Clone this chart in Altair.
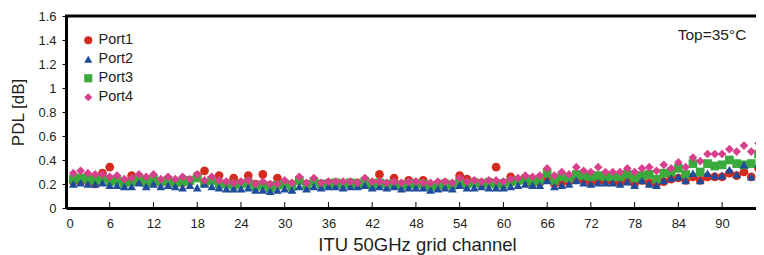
import altair as alt
import pandas as pd

channels = list(range(1, 96))

port1 = [0.22, 0.22, 0.22, 0.20, 0.29, 0.34, 0.23, 0.22, 0.27, 0.23,
         0.22, 0.22, 0.21, 0.22, 0.21, 0.21, 0.22, 0.27, 0.31, 0.23,
         0.27, 0.21, 0.25, 0.21, 0.27, 0.20, 0.28, 0.19, 0.25, 0.21,
         0.20, 0.23, 0.20, 0.22, 0.20, 0.21, 0.21, 0.20, 0.21, 0.21,
         0.23, 0.21, 0.28, 0.20, 0.25, 0.20, 0.23, 0.21, 0.23, 0.19,
         0.20, 0.21, 0.20, 0.27, 0.24, 0.22, 0.21, 0.22, 0.34, 0.21,
         0.26, 0.23, 0.23, 0.20, 0.21, 0.25, 0.20, 0.21, 0.22, 0.24,
         0.23, 0.21, 0.22, 0.22, 0.22, 0.21, 0.23, 0.20, 0.23, 0.21,
         0.20, 0.22, 0.24, 0.25, 0.23, 0.26, 0.23, 0.26, 0.26, 0.26,
         0.29, 0.27, 0.30, 0.26, 0.33]

port2 = [0.20, 0.21, 0.20, 0.20, 0.21, 0.19, 0.19, 0.18, 0.18, 0.21,
         0.18, 0.20, 0.18, 0.19, 0.18, 0.17, 0.19, 0.17, 0.20, 0.18,
         0.17, 0.16, 0.16, 0.16, 0.17, 0.15, 0.15, 0.14, 0.15, 0.16,
         0.15, 0.18, 0.16, 0.18, 0.17, 0.18, 0.18, 0.17, 0.18, 0.18,
         0.19, 0.17, 0.18, 0.17, 0.18, 0.16, 0.17, 0.17, 0.17, 0.15,
         0.16, 0.17, 0.16, 0.19, 0.17, 0.17, 0.18, 0.17, 0.17, 0.17,
         0.18, 0.19, 0.20, 0.19, 0.19, 0.23, 0.18, 0.19, 0.20, 0.23,
         0.21, 0.20, 0.21, 0.21, 0.21, 0.20, 0.22, 0.19, 0.23, 0.20,
         0.19, 0.23, 0.25, 0.26, 0.23, 0.29, 0.23, 0.29, 0.27, 0.27,
         0.32, 0.28, 0.36, 0.26, 0.37]

port3 = [0.24, 0.25, 0.24, 0.23, 0.25, 0.22, 0.23, 0.21, 0.22, 0.25,
         0.21, 0.24, 0.22, 0.23, 0.21, 0.22, 0.23, 0.25, 0.21, 0.23,
         0.20, 0.20, 0.19, 0.20, 0.21, 0.18, 0.19, 0.17, 0.19, 0.20,
         0.18, 0.23, 0.19, 0.22, 0.20, 0.20, 0.21, 0.20, 0.21, 0.20,
         0.22, 0.19, 0.21, 0.20, 0.20, 0.19, 0.20, 0.20, 0.20, 0.18,
         0.19, 0.20, 0.19, 0.22, 0.20, 0.21, 0.20, 0.21, 0.20, 0.20,
         0.22, 0.23, 0.24, 0.22, 0.23, 0.29, 0.23, 0.26, 0.25, 0.28,
         0.27, 0.26, 0.27, 0.26, 0.26, 0.26, 0.28, 0.25, 0.27, 0.28,
         0.24, 0.29, 0.30, 0.33, 0.28, 0.37, 0.30, 0.37, 0.35, 0.36,
         0.40, 0.37, 0.36, 0.37, 0.45]

port4 = [0.29, 0.31, 0.29, 0.28, 0.28, 0.26, 0.27, 0.24, 0.25, 0.28,
         0.26, 0.28, 0.24, 0.26, 0.24, 0.26, 0.24, 0.28, 0.23, 0.26,
         0.23, 0.22, 0.21, 0.22, 0.23, 0.20, 0.22, 0.20, 0.20, 0.23,
         0.21, 0.26, 0.21, 0.25, 0.21, 0.22, 0.22, 0.22, 0.22, 0.21,
         0.25, 0.22, 0.22, 0.21, 0.22, 0.21, 0.22, 0.22, 0.21, 0.21,
         0.22, 0.22, 0.21, 0.25, 0.22, 0.23, 0.22, 0.23, 0.23, 0.22,
         0.24, 0.25, 0.27, 0.26, 0.27, 0.33, 0.27, 0.30, 0.28, 0.34,
         0.31, 0.30, 0.34, 0.30, 0.30, 0.30, 0.33, 0.30, 0.33, 0.34,
         0.31, 0.36, 0.33, 0.38, 0.34, 0.42, 0.39, 0.45, 0.45, 0.45,
         0.49, 0.47, 0.52, 0.47, 0.54]

port_names = ["Port1", "Port2", "Port3", "Port4"]
port_colors = ["#d52b1e", "#1f4b9b", "#3aaa3c", "#d8408d"]
port_shapes = ["circle", "triangle-up", "square", "diamond"]
draw_order = {"Port1": 0, "Port3": 1, "Port2": 2, "Port4": 3}

x_ticks = list(range(0, 97, 6))
y_ticks = [0, 0.2, 0.4, 0.6, 0.8, 1.0, 1.2, 1.4, 1.6]

rows = []
for name, vals in zip(port_names, [port1, port2, port3, port4]):
    for c, v in zip(channels, vals):
        rows.append({"ch": c, "pdl": v, "port": name, "order": draw_order[name]})
df = pd.DataFrame(rows).sort_values(["order", "ch"]).reset_index(drop=True)

FONT = "Liberation Sans"
TXT = "#231f20"
W = 690
H = 192
X_MAX = 94.65

xscale = alt.Scale(domain=[0, X_MAX], nice=False, zero=False)
yscale = alt.Scale(domain=[0, 1.6], nice=False)

leg = alt.Legend(title=None, orient="none", legendX=15, legendY=17,
                 labelFont=FONT, labelFontSize=14.5, labelColor=TXT,
                 symbolSize=66, rowPadding=4, labelOffset=3,
                 padding=0, symbolStrokeWidth=0)

points = alt.Chart(df).mark_point(filled=True, opacity=1, size=76, strokeWidth=0).encode(
    x=alt.X("ch:Q", scale=xscale,
            axis=alt.Axis(values=x_ticks, title="ITU 50GHz grid channel",
                          grid=False, tickSize=0, labelPadding=9,
                          labelFontSize=13, labelFont=FONT, labelColor=TXT,
                          labelOverlap=False, labelBound=False,
                          domainColor="black", domainWidth=3,
                          titleFont=FONT, titleFontSize=18.5, titleFontWeight="normal",
                          titleColor=TXT, titleX=351, titleY=42,
                          titleBaseline="alphabetic", titleAlign="center")),
    y=alt.Y("pdl:Q", scale=yscale,
            axis=alt.Axis(values=y_ticks, format="~g", title="PDL [dB]", grid=False,
                          tickSize=4, tickColor="black", tickWidth=1, labelPadding=6,
                          labelFontSize=13, labelFont=FONT, labelColor=TXT,
                          domainColor="black", domainWidth=3,
                          titleFont=FONT, titleFontSize=17, titleFontWeight="normal",
                          titleColor=TXT, titleX=-48, titleY=96, titleAngle=-90,
                          titleBaseline="middle", titleAlign="center")),
    color=alt.Color("port:N", scale=alt.Scale(domain=port_names, range=port_colors), legend=leg),
    shape=alt.Shape("port:N", scale=alt.Scale(domain=port_names, range=port_shapes), legend=leg),
    order=alt.Order("order:Q"),
)

tick_df = pd.DataFrame({"t": x_ticks})
inner_ticks = alt.Chart(tick_df).mark_rule(color="black", strokeWidth=1).encode(
    x=alt.X("t:Q", scale=xscale),
    y=alt.value(H - 1),
    y2=alt.value(H - 6),
)

top_border = alt.Chart(pd.DataFrame({"a": [0]})).mark_rule(color="black", strokeWidth=3).encode(
    x=alt.value(-1), x2=alt.value(W), y=alt.value(0)
)

label = alt.Chart(pd.DataFrame({"txt": ["Top=35\u00b0C"]})).mark_text(
    font=FONT, fontSize=15.5, color=TXT, align="center", baseline="alphabetic"
).encode(text="txt:N", x=alt.value(646), y=alt.value(24))

chart = alt.layer(points, inner_ticks, top_border, label).properties(
    width=W, height=H,
    autosize=alt.AutoSizeParams(type="none"),
    padding={"left": 58, "top": 8, "right": 0, "bottom": 47},
).configure_view(stroke=None).configure(background="white")

chart.save("out.html", embed_options={"renderer": "svg", "actions": False})
